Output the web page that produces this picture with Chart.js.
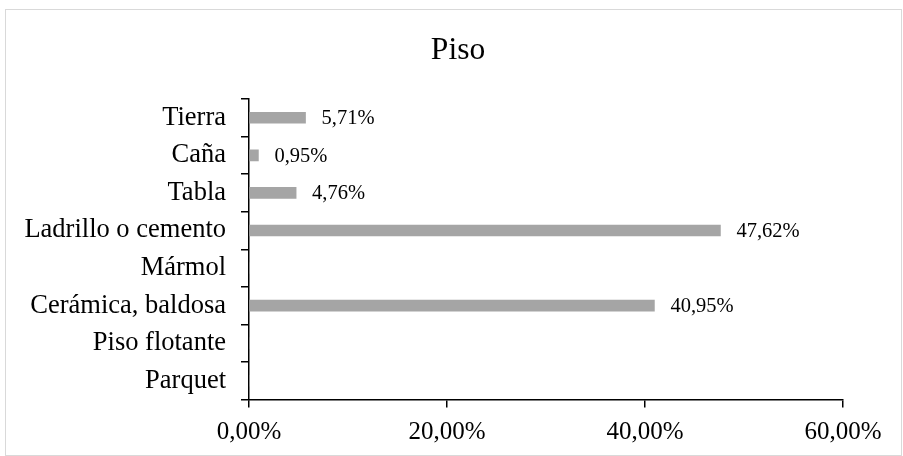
<!DOCTYPE html>
<html lang="es">
<head>
    <meta charset="UTF-8">
    <title>Piso</title>
    <script src="https://cdn.jsdelivr.net/npm/chart.js"></script>
    <style>
        html, body { margin: 0; padding: 0; background: #fff; }
        #wrap { width: 903px; height: 456px; }
    </style>
</head>
<body>
    <div id="wrap"><canvas id="pisoChart" width="903" height="456"></canvas></div>

    <script>
        // datos
        const titulo = 'Piso';
        const categorias = ['Tierra', 'Caña', 'Tabla', 'Ladrillo o cemento', 'Mármol', 'Cerámica, baldosa', 'Piso flotante', 'Parquet'];
        const valores = [5.71, 0.95, 4.76, 47.62, 0, 40.95, 0, 0];
        const ticksX = [0, 20, 40, 60];

        const fuente = 'Liberation Serif, "Times New Roman", serif';

        const fmt = v => v.toFixed(2).replace('.', ',') + '%';

        // marco gris y título centrado en todo el lienzo
        const marco = {
            id: 'marco',
            beforeDraw(chart) {
                const ctx = chart.ctx;
                ctx.save();
                ctx.fillStyle = '#fff';
                ctx.fillRect(0, 0, chart.width, chart.height);
                ctx.strokeStyle = '#D9D9D9';
                ctx.lineWidth = 1;
                ctx.strokeRect(5.5, 9.5, 896, 446);
                ctx.font = '31.5px ' + fuente;
                ctx.fillStyle = '#000';
                ctx.textAlign = 'center';
                ctx.textBaseline = 'alphabetic';
                ctx.fillText(titulo, 458, 59);
                ctx.restore();
            }
        };

        // etiquetas de valor al final de cada barra
        const etiquetas = {
            id: 'etiquetas',
            afterDatasetsDraw(chart) {
                const ctx = chart.ctx;
                const meta = chart.getDatasetMeta(0);
                ctx.save();
                ctx.font = '20.5px ' + fuente;
                ctx.fillStyle = '#000';
                ctx.textAlign = 'left';
                ctx.textBaseline = 'middle';
                meta.data.forEach((bar, i) => {
                    if (!valores[i]) return;
                    ctx.fillText(fmt(valores[i]), bar.x + 16, bar.y + 1);
                });
                ctx.restore();
            }
        };

        new Chart(document.getElementById('pisoChart'), {
            type: 'bar',
            data: {
                labels: categorias,
                datasets: [{
                    data: valores,
                    backgroundColor: '#A5A5A5',
                    borderWidth: 0,
                    barThickness: 11
                }]
            },
            options: {
                indexAxis: 'y',
                responsive: false,
                animation: false,
                layout: { padding: { left: 0, right: 60, top: 99, bottom: 0 } },
                plugins: {
                    legend: { display: false },
                    tooltip: { enabled: false },
                    title: { display: false }
                },
                scales: {
                    x: {
                        min: 0,
                        max: 60,
                        afterBuildTicks(scale) {
                            scale.ticks = ticksX.map(v => ({ value: v }));
                        },
                        afterFit(scale) { scale.height = 56.5; },
                        grid: { drawOnChartArea: false, drawTicks: true, tickLength: 8, color: '#000', lineWidth: 1.5 },
                        border: { display: true, color: '#000', width: 1.5 },
                        ticks: {
                            color: '#000',
                            padding: 10,
                            maxRotation: 0,
                            font: { family: fuente, size: 25 },
                            callback: v => fmt(v)
                        }
                    },
                    y: {
                        afterFit(scale) { scale.width = 249; },
                        grid: { offset: true, drawOnChartArea: false, drawTicks: true, tickLength: 8, color: '#000', lineWidth: 1.5 },
                        border: { display: true, color: '#000', width: 1.5 },
                        ticks: {
                            color: '#000',
                            padding: 15,
                            font: { family: fuente, size: 26.5 }
                        }
                    }
                }
            },
            plugins: [marco, etiquetas]
        });
    </script>
</body>
</html>
